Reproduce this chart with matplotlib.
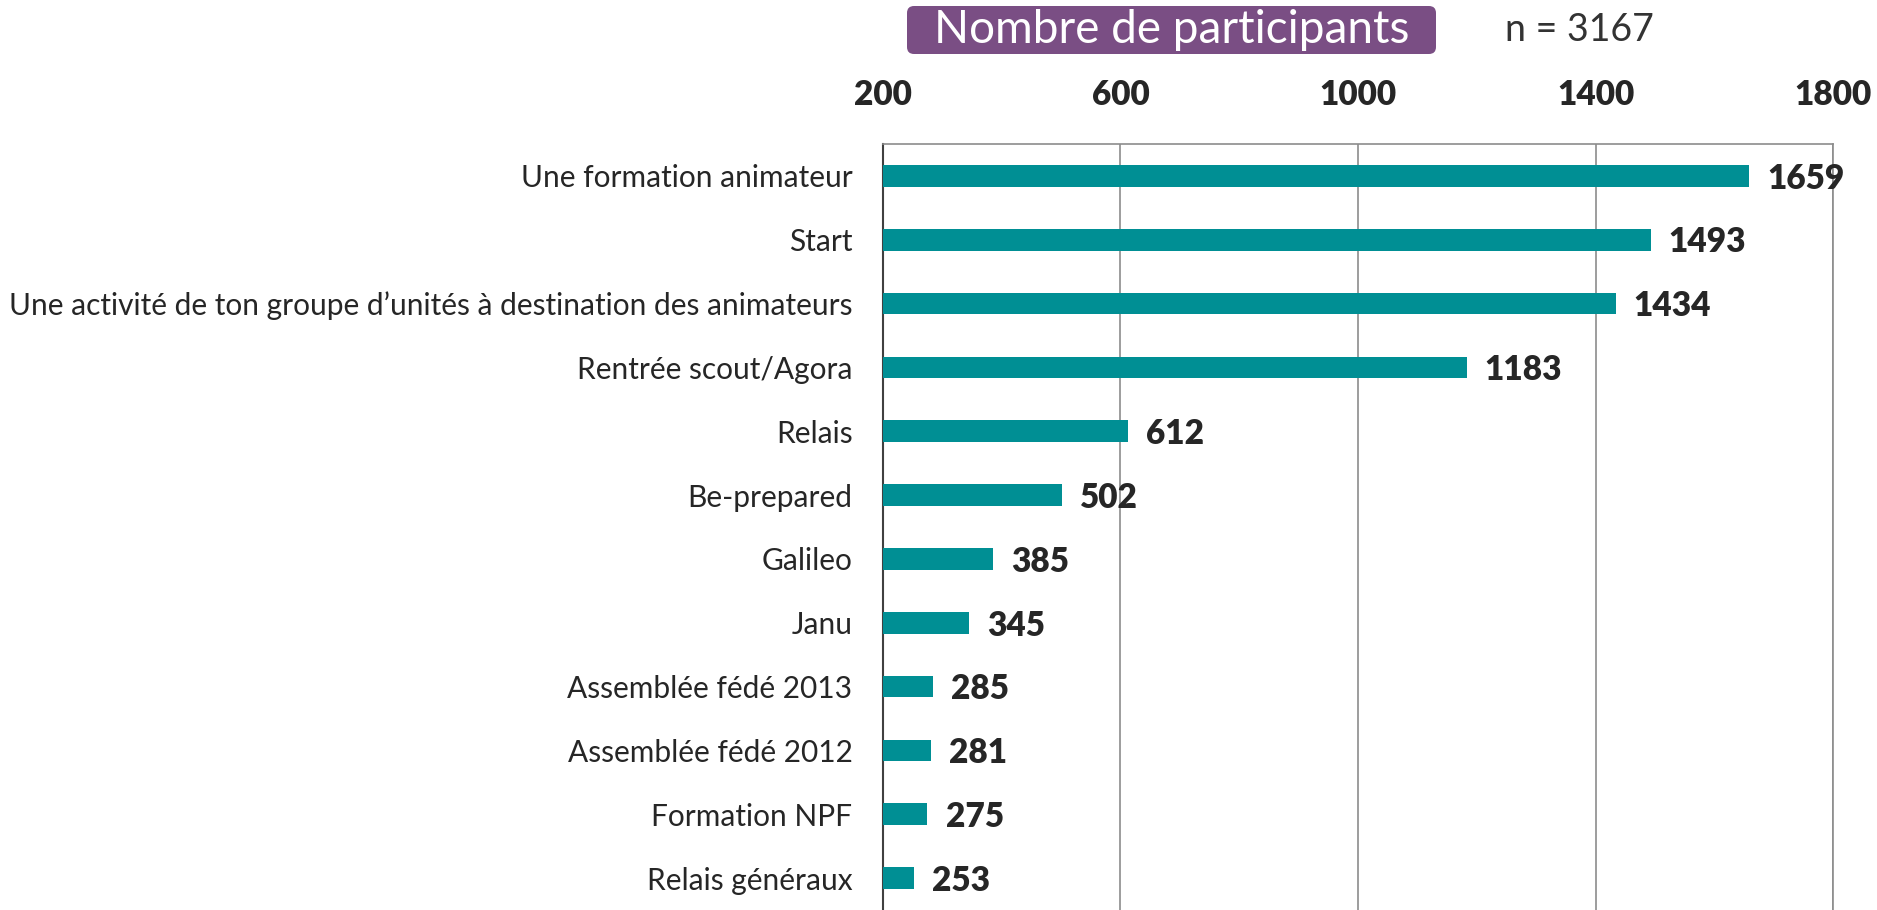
import matplotlib.pyplot as plt
from matplotlib.patches import FancyBboxPatch

# data
categories = [
    'Une formation animateur',
    'Start',
    'Une activité de ton groupe d’unités à destination des animateurs',
    'Rentrée scout/Agora',
    'Relais',
    'Be-prepared',
    'Galileo',
    'Janu',
    'Assemblée fédé 2013',
    'Assemblée fédé 2012',
    'Formation NPF',
    'Relais généraux',
]
participants = [1659, 1493, 1434, 1183, 612, 502, 385, 345, 285, 281, 275, 253]
x_ticks = [200, 600, 1000, 1400, 1800]
title = 'Nombre de participants'
n_text = 'n = 3167'

bar_color = '#008F94'
text_color = '#262626'
grid_color = '#8C8C8C'

plt.rcParams['font.family'] = ['Lato', 'DejaVu Sans']

fig = plt.figure(figsize=(18.77, 9.10), dpi=100)
ax = fig.add_axes([0.4704, 0.0, 0.5062, 0.8418])

y = list(range(len(categories)))
ax.barh(y, participants, height=0.34, color=bar_color, zorder=3)

for yi, v in zip(y, participants):
    ax.annotate(str(v), (v, yi), xytext=(13, -2), textcoords='offset points',
                ha='left', va='center', fontsize=24, fontweight='heavy',
                color=text_color, zorder=4, annotation_clip=False)

ax.set_xlim(200, 1800)
ax.set_ylim(len(categories) - 0.5, -0.5)
ax.set_yticks(y)
ax.set_yticklabels(categories, fontsize=21.5, color=text_color)
ax.set_xticks(x_ticks)
ax.set_xticklabels([str(t) for t in x_ticks], fontsize=24, fontweight='heavy',
                   color=text_color)
ax.xaxis.tick_top()
ax.tick_params(axis='x', length=0, pad=24)
ax.tick_params(axis='y', length=0, pad=22)

ax.grid(axis='x', color=grid_color, linewidth=1.2, zorder=0)
for side in ['top', 'right']:
    ax.spines[side].set_color(grid_color)
    ax.spines[side].set_linewidth(1.2)
ax.spines['left'].set_color('#404040')
ax.spines['left'].set_linewidth(1.5)
ax.spines['bottom'].set_visible(False)

# purple title box
box = FancyBboxPatch((9.07, 8.56), 5.29, 0.48,
                     boxstyle='round,pad=0,rounding_size=0.07',
                     transform=fig.dpi_scale_trans, facecolor='#7A4E84',
                     edgecolor='none')
fig.patches.append(box)
fig.text(11.715 / 18.77, 8.80 / 9.10, title, ha='center', va='center',
         fontsize=33, color='white')
fig.text(15.05 / 18.77, 8.80 / 9.10, n_text, ha='left', va='center',
         fontsize=27, color='#333333')

fig.savefig('out.png', dpi=100)
